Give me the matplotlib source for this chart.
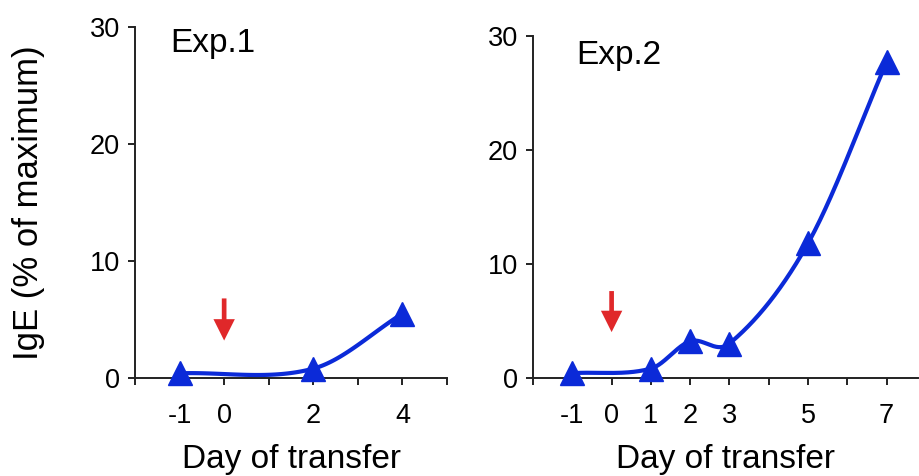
import numpy as np
import matplotlib.pyplot as plt

plt.rcParams['font.family'] = ['Liberation Sans', 'DejaVu Sans']

# Exp.1 data
x1 = [-1, 2, 4]
y1 = [0.4, 0.8, 5.5]
ticks1 = [-2, -1, 0, 1, 2, 3, 4, 5]
labels1 = ['', '-1', '0', '', '2', '', '4', '']

# Exp.2 data
x2 = [-1, 1, 2, 3, 5, 7]
y2 = [0.4, 0.8, 3.2, 3.0, 11.8, 27.7]
ticks2 = [-2, -1, 0, 1, 2, 3, 4, 5, 6, 7]
labels2 = ['', '-1', '0', '1', '2', '3', '', '5', '', '7']

yticks = [0, 10, 20, 30]
blue = '#0b2ad8'
red = '#e0282a'


def smooth(x, y, n=60):
    # cubic hermite through the points (Catmull-Rom style tangents)
    x = np.asarray(x, float)
    y = np.asarray(y, float)
    m = np.zeros_like(y)
    m[0] = (y[1] - y[0]) / (x[1] - x[0])
    m[-1] = (y[-1] - y[-2]) / (x[-1] - x[-2])
    for i in range(1, len(x) - 1):
        m[i] = (y[i + 1] - y[i - 1]) / (x[i + 1] - x[i - 1])
    xs, ys = [], []
    for i in range(len(x) - 1):
        h = x[i + 1] - x[i]
        t = np.linspace(0, 1, n)
        h00 = 2 * t**3 - 3 * t**2 + 1
        h10 = t**3 - 2 * t**2 + t
        h01 = -2 * t**3 + 3 * t**2
        h11 = t**3 - t**2
        xs.append(x[i] + t * h)
        ys.append(h00 * y[i] + h10 * h * m[i] + h01 * y[i + 1] + h11 * h * m[i + 1])
    return np.concatenate(xs), np.concatenate(ys)


fig = plt.figure(figsize=(9.19, 4.76), dpi=100)
ax1 = fig.add_axes([0.1469, 0.2059, 0.3395, 0.7374])
ax2 = fig.add_axes([0.58, 0.2065, 0.419, 0.7185])


def style(ax, ticks, labels, xmax):
    ax.set_xlim(-2, xmax)
    ax.set_ylim(0, 30)
    ax.set_xticks(ticks)
    ax.set_xticklabels(labels)
    ax.set_yticks(yticks)
    for s in ['top', 'right']:
        ax.spines[s].set_visible(False)
    for s in ['left', 'bottom']:
        ax.spines[s].set_linewidth(1.4)
        ax.spines[s].set_color('#222222')
    ax.tick_params(axis='x', length=5, width=1.4, pad=13, labelsize=19.5, color='#222222')
    ax.tick_params(axis='y', length=5, width=1.4, pad=6, labelsize=19.5, color='#222222')
    ax.set_xlabel('Day of transfer', fontsize=24, labelpad=11)


style(ax1, ticks1, labels1, 5)
style(ax2, ticks2, labels2, 7.8)

for ax, x, y in [(ax1, x1, y1), (ax2, x2, y2)]:
    sx, sy = smooth(x, y)
    ax.plot(sx, sy, color=blue, lw=3, clip_on=False, zorder=3)
    ax.plot(x, y, '^', color=blue, ms=17, clip_on=False, zorder=4)

ax1.set_ylabel('IgE (% of maximum)', fontsize=25, labelpad=32)

ax1.text(-1.22, 28.6, 'Exp.1', fontsize=24, va='center', ha='left')
ax2.text(-0.9, 28.3, 'Exp.2', fontsize=24, va='center', ha='left')

arrow = 'simple,head_width=0.55,head_length=0.55,tail_width=0.12'
ax1.annotate('', xy=(0, 3.2), xytext=(0, 6.8),
             arrowprops=dict(arrowstyle=arrow, color=red, lw=0, mutation_scale=28,
                             shrinkA=0, shrinkB=0))
ax2.annotate('', xy=(0, 4.0), xytext=(0, 7.6),
             arrowprops=dict(arrowstyle=arrow, color=red, lw=0, mutation_scale=28,
                             shrinkA=0, shrinkB=0))

fig.savefig('out.png', dpi=100)
